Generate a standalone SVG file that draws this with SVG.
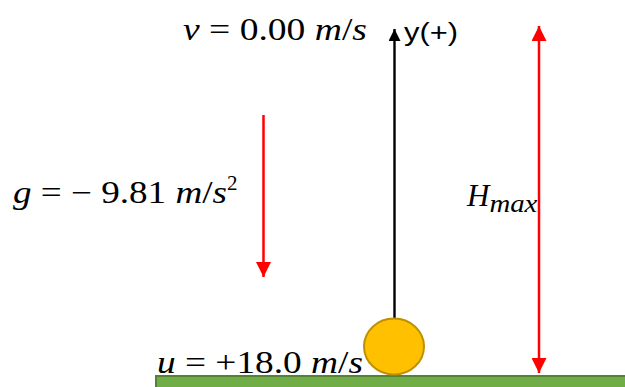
<svg xmlns="http://www.w3.org/2000/svg" width="625" height="387" viewBox="0 0 625 387">
<style>
.m{font-family:"Liberation Serif","DejaVu Serif",serif;font-size:31px;fill:#000}
.i{font-style:italic}
.lbl{font-family:"Liberation Sans","Open Sans",sans-serif;font-size:26px;fill:#000}
.red{stroke:#FF0000;stroke-width:2.5;fill:none}
</style>
<defs>
<marker id="rh" viewBox="0 0 10 10" refX="10" refY="5" markerWidth="6" markerHeight="6" markerUnits="strokeWidth" orient="auto-start-reverse"><path d="M0,0 L10,5 L0,10 Z" fill="#FF0000"/></marker>
<marker id="bh" viewBox="0 0 10 10" refX="10" refY="5" markerWidth="5" markerHeight="5" markerUnits="strokeWidth" orient="auto"><path d="M0,0 L10,5 L0,10 Z" fill="#000"/></marker>
</defs>
<rect width="625" height="387" fill="#fff"/>
<g id="ground"><rect x="156" y="376" width="475" height="20" fill="#70AD47" stroke="#548235" stroke-width="2"/></g>
<g id="connectors">
<line x1="394.5" y1="318" x2="394.5" y2="29" stroke="#000" stroke-width="2.4" marker-end="url(#bh)"/>
<line class="red" x1="263.5" y1="115" x2="263.5" y2="277" marker-end="url(#rh)"/>
<line class="red" x1="539" y1="26" x2="539" y2="373" marker-start="url(#rh)" marker-end="url(#rh)"/>
</g>
<g id="ball"><ellipse cx="394" cy="346.5" rx="30" ry="28" fill="#FFC000" stroke="#BF9000" stroke-width="2"/></g>
<g id="v-label"><text class="m" x="183" y="40" textLength="184" lengthAdjust="spacingAndGlyphs"><tspan class="i">v</tspan> = 0.00 <tspan class="i">m</tspan>/<tspan class="i">s</tspan></text></g>
<g id="y-label"><text class="lbl" x="404" y="41" textLength="54" lengthAdjust="spacingAndGlyphs">y(+)</text></g>
<g id="g-label"><text class="m" x="13" y="203"><tspan textLength="214" lengthAdjust="spacingAndGlyphs"><tspan class="i">g</tspan> = − 9.81 <tspan class="i">m</tspan>/<tspan class="i">s</tspan></tspan><tspan font-size="21" dy="-13">2</tspan></text></g>
<g id="u-label"><text class="m" x="157" y="373" textLength="206" lengthAdjust="spacingAndGlyphs"><tspan class="i">u</tspan> = +18.0 <tspan class="i">m</tspan>/<tspan class="i">s</tspan></text></g>
<g id="h-label"><text class="m" x="467" y="206"><tspan class="i">H</tspan><tspan class="i" font-size="25" dy="6" textLength="48" lengthAdjust="spacingAndGlyphs">max</tspan></text></g>
</svg>
